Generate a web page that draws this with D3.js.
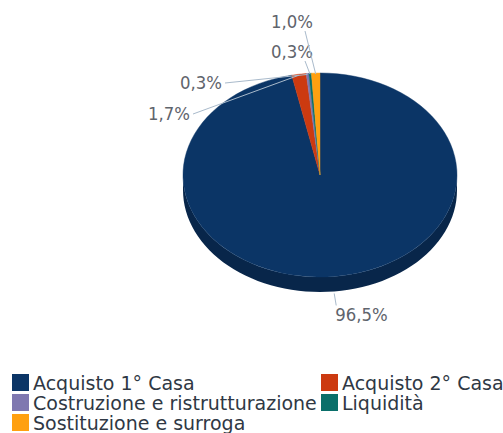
<!DOCTYPE html>
<html>
<head>
<meta charset="utf-8">
<script src="https://cdn.jsdelivr.net/npm/d3@7"></script>
<style>
  html, body { margin: 0; padding: 0; background: #fff; }
  svg { display: block; }
</style>
</head>
<body>
<div id="chart"></div>
<script>
// data
const categories = ['Acquisto 1° Casa', 'Acquisto 2° Casa', 'Costruzione e ristrutturazione', 'Liquidità', 'Sostituzione e surroga'];
const shares = [96.5, 1.7, 0.3, 0.3, 1.0];
const labels = ['96,5%', '1,7%', '0,3%', '0,3%', '1,0%'];
const colors = ['#0b3566', '#cc3a10', '#7f78b0', '#0a6f6a', '#ffa010'];

const width = 503, height = 433;
const cx = 320, cy = 175, rx = 137, ry = 102, depth = 15;

const svg = d3.select('#chart').append('svg')
  .attr('width', width)
  .attr('height', height)
  .style('font-family', '"DejaVu Sans", Verdana, sans-serif');

const rows = categories.map((c, i) => ({ name: c, value: shares[i], label: labels[i], color: colors[i] }));
const arcs = d3.pie().sort(null).value(d => d.value)(rows);

// point on the ellipse for an angle measured clockwise from 12 o'clock
const pt = (a, dy = 0) => [cx + rx * Math.sin(a), cy - ry * Math.cos(a) + dy];

// side walls (front half only)
const side = svg.append('g');
arcs.forEach(a => {
  const s = Math.max(a.startAngle, Math.PI / 2);
  const e = Math.min(a.endAngle, Math.PI * 1.5);
  if (e <= s) return;
  const n = 60;
  const top = d3.range(n + 1).map(k => pt(s + (e - s) * k / n));
  const bot = top.map(p => [p[0], p[1] + depth]).reverse();
  side.append('path')
    .attr('d', d3.line()(top.concat(bot)) + 'Z')
    .attr('fill', d3.color(a.data.color).darker(0.9));
});

// top faces: circular arcs squashed into an ellipse
const arc = d3.arc().innerRadius(0).outerRadius(rx);
svg.append('g')
  .attr('transform', `translate(${cx},${cy}) scale(1,${ry / rx})`)
  .selectAll('path')
  .data(arcs)
  .join('path')
  .attr('d', arc)
  .attr('fill', d => d.data.color)
  .attr('stroke', d => d.data.color)
  .attr('stroke-width', 0.5);

// data labels with connectors
const lineColor = '#a9bacb';
const textColor = '#5f646c';
const lab = svg.append('g').style('font-size', '18px').attr('fill', textColor);

arcs.forEach((a, i) => {
  const mid = (a.startAngle + a.endAngle) / 2;
  const edge = pt(mid);
  let tx, ty, anchor, lx, ly;
  if (i === 0) {
    // big slice: label below the pie
    const p = pt(mid, depth);
    tx = p[0] + 1; ty = p[1] + 30; anchor = 'start';
    lx = p[0] + 2; ly = p[1] + 14;
    lab.append('path').attr('d', d3.line()([[p[0], p[1] + 2], [lx, ly]]))
      .attr('stroke', lineColor).attr('fill', 'none');
  } else if (i <= 2) {
    // left stack
    tx = [0, 190, 222][i]; ty = [0, 120, 89][i]; anchor = 'end';
    lx = tx + 3; ly = ty - 6;
    lab.append('path').attr('d', d3.line()([[lx, ly], [edge[0], edge[1] + 1]]))
      .attr('stroke', lineColor).attr('fill', 'none');
  } else {
    // upper stack
    tx = 313; ty = i === 3 ? 58 : 28; anchor = 'end';
    lx = tx - 8; ly = ty + 3;
    lab.append('path').attr('d', d3.line()([[lx, ly], [edge[0], edge[1] + 1]]))
      .attr('stroke', lineColor).attr('fill', 'none');
  }
  lab.append('text')
    .attr('transform', `translate(${tx},${ty}) scale(0.92,1)`)
    .attr('text-anchor', anchor)
    .text(a.data.label);
});

// legend
const legend = svg.append('g').style('font-size', '19px').attr('fill', '#2f3844');
const colX = [12, 321];
const rowY = [390, 410, 430];
rows.forEach((d, i) => {
  const x = colX[i % 2], y = rowY[Math.floor(i / 2)];
  legend.append('rect').attr('x', x).attr('y', y - 16).attr('width', 17).attr('height', 17).attr('fill', d.color);
  legend.append('text').attr('x', x + 21).attr('y', y).text(d.name);
});
</script>
</body>
</html>
